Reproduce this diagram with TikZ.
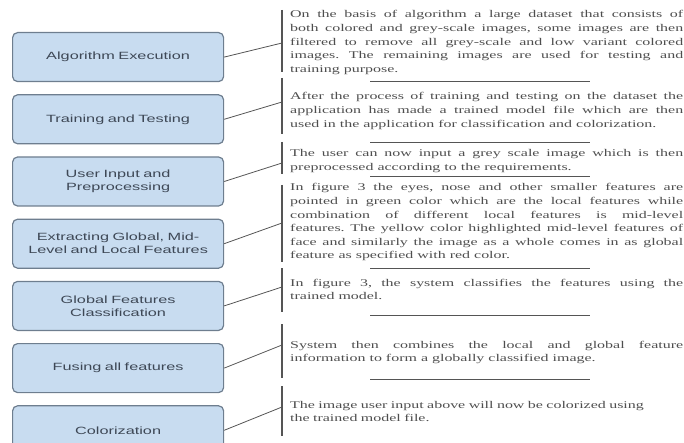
\documentclass[tikz,border=0pt]{standalone}
\usepackage{fontspec}
\setmainfont{Liberation Serif}[FakeStretch=1.55]
\newfontfamily\boxfont{Liberation Sans}[FakeStretch=1.55]
\usetikzlibrary{positioning}
\definecolor{boxfill}{HTML}{C8DCF0}
\definecolor{boxline}{HTML}{6E7E8F}
\definecolor{boxtext}{HTML}{3E4856}
\definecolor{notetext}{HTML}{4E4E4E}
\definecolor{barcol}{HTML}{555555}
\hyphenpenalty=10000
\exhyphenpenalty=10000
\hbadness=10000
\frenchspacing

\begin{document}
\begin{tikzpicture}[x=1pt,y=-1pt]
        \tikzset{stage/.style={draw=boxline, fill=boxfill, rectangle, rounded corners=5pt, line width=1.2pt, align=center, text width=200pt, minimum width=211pt, minimum height=49pt, inner sep=0pt, text=boxtext, font=\boxfont\fontsize{10.5}{13}\selectfont},
        note/.style={anchor=base west, text width=393pt, align=justify, inner sep=0pt, text=notetext, font=\fontsize{10.3}{13.6}\selectfont},
        bar/.style={draw=barcol, line width=1.8pt},
        rule/.style={draw=barcol, line width=0.9pt},
        link/.style={draw=barcol, line width=0.8pt}
        }
        \useasboundingbox (0,0) rectangle (684,443);
%% stages
        \node [stage, anchor=north west] (algo) at (12,32) {Algorithm Execution};
        \node [stage, below=12pt of algo] (train) {Training and Testing};
        \node [stage, below=12pt of train] (input) {User Input and\\Preprocessing};
        \node [stage, below=12pt of input] (extract) {Extracting Global, Mid-\\Level and Local Features};
        \node [stage, below=12pt of extract] (classify) {Global Features\\Classification};
        \node [stage, below=12pt of classify] (fuse) {Fusing all features};
        \node [stage, below=12pt of fuse] (color) {Colorization};
%% notes
        \node [note] (algonote) at (290,18) {On the basis of algorithm a large dataset that consists of\linebreak both colored and grey-scale images, some images are then\linebreak filtered to remove all grey-scale and low variant colored\linebreak images. The remaining images are used for testing and\linebreak training purpose.};
        \node [note] (trainnote) at (290,100) {After the process of training and testing on the dataset the\linebreak application has made a trained model file which are then\linebreak used in the application for classification and colorization.};
        \node [note] (inputnote) at (290,157) {The user can now input a grey scale image which is then\linebreak preprocessed according to the requirements.};
        \node [note] (extractnote) at (290,191) {In figure 3 the eyes, nose and other smaller features are\linebreak pointed in green color which are the local features while\linebreak combination of different local features is mid-level\linebreak features. The yellow color highlighted mid-level features of\linebreak face and similarly the image as a whole comes in as global\linebreak feature as specified with red color.};
        \node [note] (classifynote) at (290,286) {In figure 3, the system classifies the features using the\linebreak trained model.};
        \node [note] (fusenote) at (290,348) {System then combines the local and global feature\linebreak information to form a globally classified image.};
        \node [note, align=left] (colornote) at (290,408) {The image user input above will now be colorized using\\the trained model file.};
%% brackets and rules
        \draw [bar] (282,10) -- (282,72);
        \draw [bar] (282,78) -- (282,134);
        \draw [bar] (282,142) -- (282,174);
        \draw [bar] (282,185) -- (282,262);
        \draw [bar] (282,268) -- (282,312);
        \draw [bar] (282,324) -- (282,378);
        \draw [bar] (282,386) -- (282,436);
        \draw [rule] (370,81) -- (590,81);
        \draw [rule] (370,142) -- (590,142);
        \draw [rule] (370,176) -- (590,176);
        \draw [rule] (370,268) -- (590,268);
        \draw [rule] (370,315) -- (590,315);
        \draw [rule] (370,379) -- (590,379);
        \coordinate (j1) at (282,43);
        \coordinate (j2) at (282,102);
        \coordinate (j3) at (282,163);
        \coordinate (j4) at (282,223);
        \coordinate (j5) at (282,287);
        \coordinate (j6) at (282,345);
        \coordinate (j7) at (282,407);
%% paths
        \path[link] (algo.east) edge (j1)
                    (train.east) edge (j2)
                    (input.east) edge (j3)
                    (extract.east) edge (j4)
                    (classify.east) edge (j5)
                    (fuse.east) edge (j6)
                    (color.east) edge (j7)
                    ;
\end{tikzpicture}
\end{document}
